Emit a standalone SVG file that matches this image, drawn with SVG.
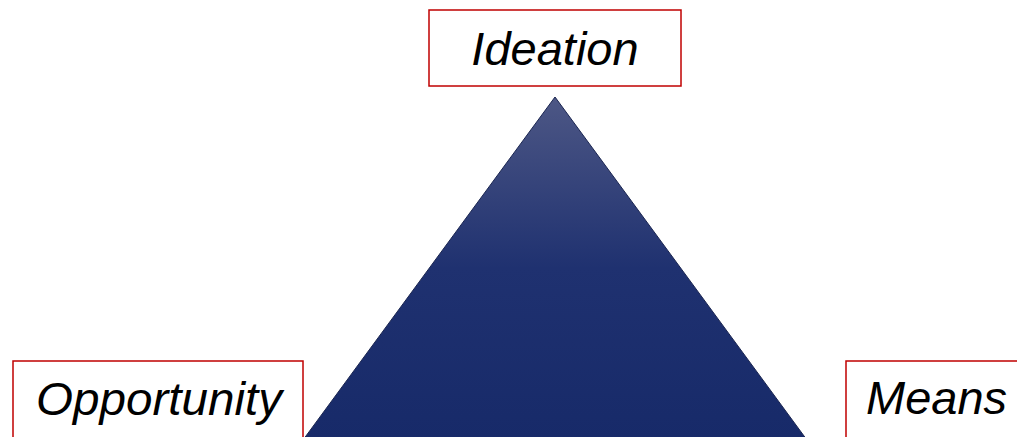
<svg xmlns="http://www.w3.org/2000/svg" width="1017" height="437" viewBox="0 0 1017 437">
<style>
.box{fill:#fff;stroke:#c00000;stroke-width:1.5}
.lbl{font-family:"Liberation Sans",Arial,sans-serif;font-style:italic;font-size:47px;fill:#000}
</style>
<defs>
<linearGradient id="tg" x1="0" y1="0" x2="0" y2="1">
<stop offset="0" stop-color="#4d5785"/>
<stop offset="0.5" stop-color="#1f3170"/>
<stop offset="1" stop-color="#172a69"/>
</linearGradient>
</defs>
<rect width="1017" height="437" fill="#fff"/>
<g id="triangle">
<polygon points="555,97 303,440 807,440" fill="url(#tg)" stroke="#1a2550" stroke-width="1"/>
</g>
<g id="ideation">
<rect class="box" x="429" y="10" width="252" height="76"/>
<text class="lbl" x="555" y="65" text-anchor="middle">Ideation</text>
</g>
<g id="opportunity">
<rect class="box" x="13" y="361" width="290" height="90"/>
<text class="lbl" x="36" y="415" textLength="246" lengthAdjust="spacingAndGlyphs">Opportunity</text>
</g>
<g id="means">
<rect class="box" x="846" y="361" width="200" height="90"/>
<text class="lbl" x="866" y="414" textLength="141" lengthAdjust="spacingAndGlyphs">Means</text>
</g>
<g id="connectors"></g>
</svg>
